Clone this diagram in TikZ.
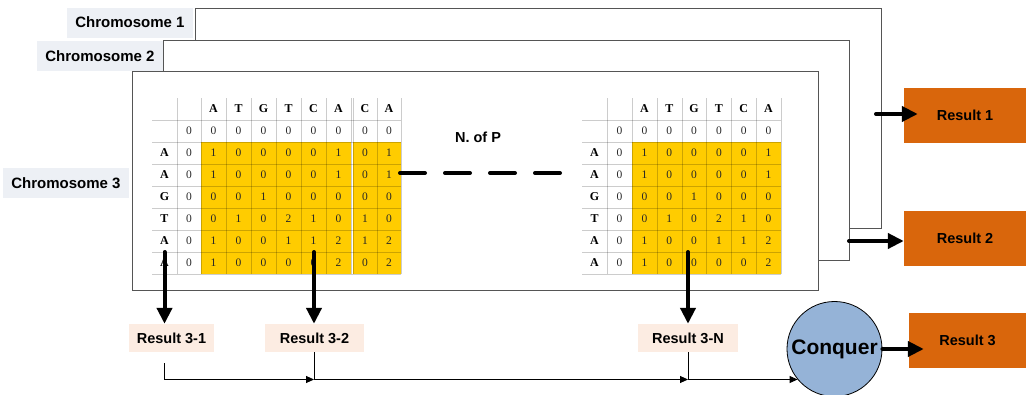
\documentclass[tikz,border=0pt]{standalone}
\usepackage{fontspec}
\setmainfont{Liberation Serif}
\newfontfamily\arialf{Liberation Sans}
\usetikzlibrary{arrows.meta}
\definecolor{labelbg}{RGB}{237,240,245}
\definecolor{cellyellow}{RGB}{255,204,0}
\definecolor{resorange}{RGB}{217,102,12}
\definecolor{respeach}{RGB}{252,236,226}
\definecolor{conqblue}{RGB}{149,179,215}
\definecolor{framegray}{RGB}{85,85,85}
\tikzset{
  frame/.style={draw=framegray, line width=1.1pt, fill=white, inner sep=0pt, anchor=north west},
  chromlabel/.style={fill=labelbg, inner sep=0pt, minimum width=126pt, minimum height=30pt,
    font=\arialf\bfseries\fontsize{15}{17}\selectfont},
  resbox/.style={fill=resorange, inner sep=0pt, minimum height=55pt,
    font=\arialf\bfseries\fontsize{14.5}{16}\selectfont},
  subres/.style={fill=respeach, inner sep=0pt, minimum height=28pt,
    font=\arialf\bfseries\fontsize{14.5}{16}\selectfont},
  conqnode/.style={circle, draw=black, line width=0.8pt, fill=conqblue, minimum size=95pt, inner sep=0pt,
    font=\arialf\bfseries\fontsize{21}{24}\selectfont},
  bigarrow/.style={line width=4pt, line cap=round, -{Triangle[length=16pt,width=15pt]}},
  thinarrow/.style={line width=0.9pt, -{Triangle[length=8pt,width=7pt]}},
  gridline/.style={draw=black, draw opacity=0.2, line width=0.7pt},
  hdr/.style={font=\bfseries\fontsize{12}{13}\selectfont, inner sep=0pt},
  num/.style={font=\fontsize{11.5}{13}\selectfont, inner sep=0pt, text=black!85},
  dashline/.style={line width=4pt, line cap=round, dash pattern=on 25pt off 20pt},
  noplabel/.style={font=\arialf\bfseries\fontsize{14.5}{17}\selectfont, inner sep=0pt}
}
\begin{document}
\begin{tikzpicture}[x=1pt,y=-1pt]
\clip (0,0) rectangle (1026,394);
\fill[white] (0,0) rectangle (1026,394);

% chromosome frames
\node[frame, minimum width=686pt, minimum height=220pt] (chrom1) at (195,8) {};
\node[frame, minimum width=686pt, minimum height=220pt] (chrom2) at (163,40) {};
\node[frame, minimum width=686pt, minimum height=219pt] (chrom3) at (132,71) {};

% chromosome labels
\node[chromlabel] (lab1) at (130,22.5) {Chromosome 1};
\node[chromlabel] (lab2) at (100,56) {Chromosome 2};
\node[chromlabel] (lab3) at (66,183) {Chromosome 3};

% ---------- left table ----------
\fill[cellyellow] (201,142) rectangle (351,274);
\fill[cellyellow] (353,142) rectangle (401,274);
\foreach \yy in {120,142,164,186,208,230,252,274}
  \draw[gridline] (152,\yy) -- (401,\yy);
\foreach \xx in {177,201,226,251,276,301,326,351,353,377,401}
  \draw[gridline] (\xx,98) -- (\xx,274);
\foreach \t [count=\c] in {A,T,G,T,C,A,C,A}{
  \pgfmathsetmacro\xc{{213.5,238.5,263.5,288.5,313.5,338.5,365,389}[\c-1]}
  \node[hdr] at (\xc,109) {\t};
  \node[num] at (\xc,131) {0};
}
\node[num] at (189,131) {0};
\foreach \t [count=\r] in {A,A,G,T,A,A}{
  \node[hdr] at (164.5,131+22*\r) {\t};
  \node[num] at (189,131+22*\r) {0};
}
\foreach \vals [count=\r] in {{1,0,0,0,0,1,0,1},{1,0,0,0,0,1,0,1},{0,0,1,0,0,0,0,0},{0,1,0,2,1,0,1,0},{1,0,0,1,1,2,1,2},{1,0,0,0,0,2,0,2}}{
  \foreach \v [count=\c] in \vals {
    \pgfmathsetmacro\xc{{213.5,238.5,263.5,288.5,313.5,338.5,365,389}[\c-1]}
    \node[num] at (\xc,131+22*\r) {\v};
  }
}

% ---------- right table ----------
\fill[cellyellow] (632,142) rectangle (781,274);
\foreach \yy in {120,142,164,186,208,230,252,274}
  \draw[gridline] (582,\yy) -- (781,\yy);
\foreach \xx in {607,632,657,682,706,731,756,781}
  \draw[gridline] (\xx,98) -- (\xx,274);
\foreach \t [count=\c] in {A,T,G,T,C,A}{
  \node[hdr] at (644.5+24.8*\c-24.8,109) {\t};
  \node[num] at (644.5+24.8*\c-24.8,131) {0};
}
\node[num] at (619.5,131) {0};
\foreach \t [count=\r] in {A,A,G,T,A,A}{
  \node[hdr] at (594.5,131+22*\r) {\t};
  \node[num] at (619.5,131+22*\r) {0};
}
\foreach \vals [count=\r] in {{1,0,0,0,0,1},{1,0,0,0,0,1},{0,0,1,0,0,0},{0,1,0,2,1,0},{1,0,0,1,1,2},{1,0,0,0,0,2}}{
  \foreach \v [count=\c] in \vals {
    \node[num] at (644.5+24.8*\c-24.8,131+22*\r) {\v};
  }
}

% N. of P and dashed link
\node[noplabel] (nofp) at (478,137) {N. of P};
\coordinate (dashL) at (400,173);
\coordinate (dashR) at (562,173);
\draw[dashline] (dashL) -- (dashR);

% results
\node[resbox, minimum width=122pt] (r1) at (965,115.5) {Result 1};
\node[resbox, minimum width=122pt] (r2) at (965,238) {Result 2};
\node[resbox, minimum width=117pt] (r3) at (967.5,340.5) {Result 3};

\node[subres, minimum width=85pt] (r31) at (171.5,338) {Result 3-1};
\node[subres, minimum width=99pt] (r32) at (314.5,338) {Result 3-2};
\node[subres, minimum width=100pt] (r3n) at (688,338) {Result 3-N};

\node[conqnode] (conq) at (834.5,349) {Conquer};

% arrows to results 1,2,3
\coordinate (a1) at (876,114);
\coordinate (a2) at (849,241);
\draw[bigarrow] (a1) -- ([xshift=14pt]r1.west |- a1);
\draw[bigarrow] (a2) -- (r2.west |- a2);
\draw[bigarrow] (conq.east) -- ([xshift=15pt]r3.west |- conq.east);

% arrows down
\coordinate (s1) at (164.5,252);
\coordinate (s2) at (314,252);
\coordinate (s3) at (688,252);
\draw[bigarrow] (s1) -- (s1 |- r31.north);
\draw[bigarrow] (s2) -- (s2 |- r32.north);
\draw[bigarrow] (s3) -- (s3 |- r3n.north);

% bottom collector
\coordinate (b0) at (164.5,363);
\coordinate (b1) at (164.5,379.5);
\coordinate (cin) at ([shift={(-36.9,30.5)}]conq.center);
\draw[line width=0.9pt] (b0) -- (b1);
\draw[thinarrow] (b1) -- (s2 |- b1);
\draw[line width=0.9pt] (r32.south -| s2) -- (s2 |- b1);
\draw[thinarrow] (s2 |- b1) -- (s3 |- b1);
\draw[line width=0.9pt] (r3n.south -| s3) -- (s3 |- b1);
\draw[thinarrow] (s3 |- b1) -- (cin);
\end{tikzpicture}
\end{document}
